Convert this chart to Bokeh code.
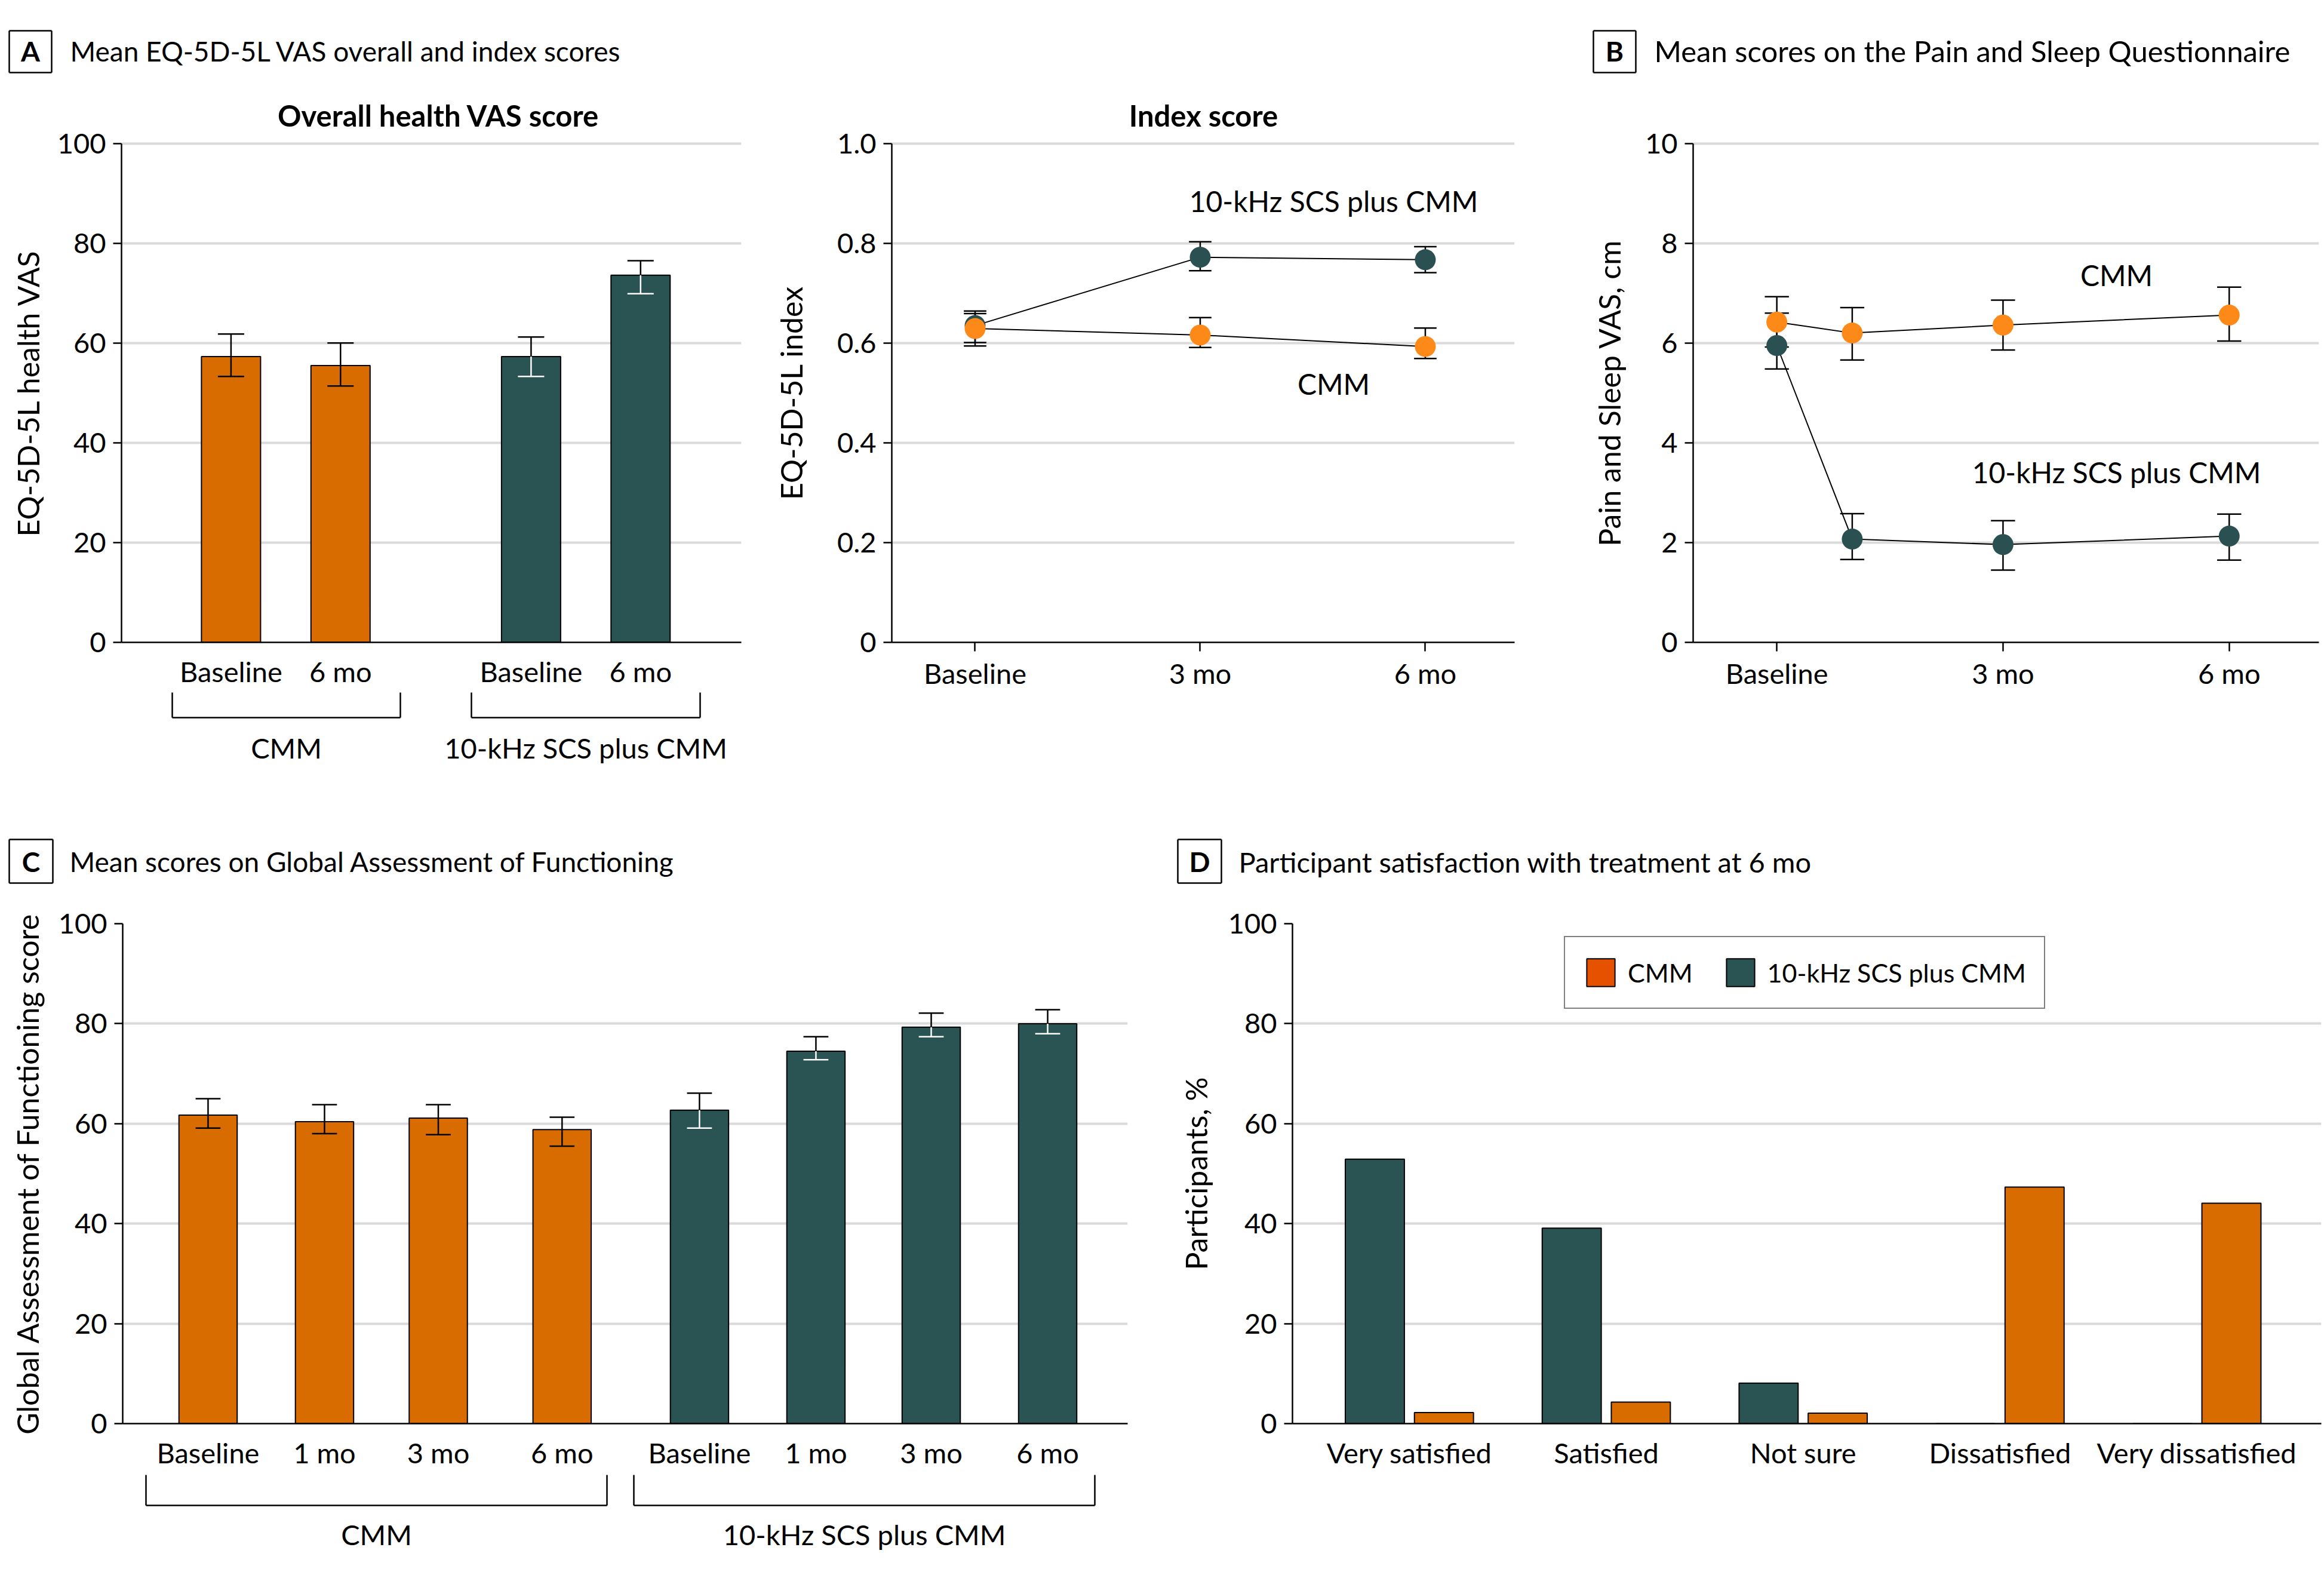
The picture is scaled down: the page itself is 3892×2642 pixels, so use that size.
from bokeh.plotting import figure
from bokeh.models import (Range1d, FixedTicker, Label, Arrow, Legend, LegendItem,
                          CustomJSTickFormatter)
from bokeh.layouts import row, column
from bokeh.embed import file_html
from bokeh.resources import INLINE

# ---------------- data ----------------
# Panel A, left: overall health VAS score (mean, 95% CI)
vas_labels = ["Baseline", "6 mo", "Baseline", "6 mo"]
vas_groups = ["CMM", "CMM", "10-kHz SCS plus CMM", "10-kHz SCS plus CMM"]
vas_mean = [57.3, 55.5, 57.3, 73.6]
vas_low = [53.3, 51.4, 53.3, 69.9]
vas_high = [61.8, 60.0, 61.2, 76.5]

# Panel A, right: index score
idx_months = [0, 3, 6]
idx_tick_labels = ["Baseline", "3 mo", "6 mo"]
idx_scs = [0.635, 0.772, 0.767]
idx_scs_low = [0.601, 0.745, 0.741]
idx_scs_high = [0.664, 0.803, 0.793]
idx_cmm = [0.629, 0.616, 0.593]
idx_cmm_low = [0.594, 0.591, 0.569]
idx_cmm_high = [0.659, 0.651, 0.630]

# Panel B: Pain and Sleep Questionnaire
psq_months = [0, 1, 3, 6]
psq_tick_months = [0, 3, 6]
psq_tick_labels = ["Baseline", "3 mo", "6 mo"]
psq_cmm = [6.42, 6.20, 6.36, 6.56]
psq_cmm_low = [5.92, 5.66, 5.86, 6.04]
psq_cmm_high = [6.93, 6.71, 6.86, 7.12]
psq_scs = [5.95, 2.07, 1.96, 2.13]
psq_scs_low = [5.48, 1.66, 1.45, 1.65]
psq_scs_high = [6.60, 2.58, 2.44, 2.57]

# Panel C: Global Assessment of Functioning
gaf_labels = ["Baseline", "1 mo", "3 mo", "6 mo"]
gaf_cmm = [61.7, 60.4, 61.1, 58.8]
gaf_cmm_low = [59.1, 58.0, 57.8, 55.5]
gaf_cmm_high = [65.0, 63.8, 63.8, 61.3]
gaf_scs = [62.7, 74.5, 79.3, 80.0]
gaf_scs_low = [59.1, 72.8, 77.4, 78.0]
gaf_scs_high = [66.1, 77.4, 82.1, 82.8]

# Panel D: satisfaction at 6 mo (% of participants)
sat_categories = ["Very satisfied", "Satisfied", "Not sure", "Dissatisfied", "Very dissatisfied"]
sat_cmm = [2.2, 4.3, 2.1, 47.3, 44.1]
sat_scs = [52.9, 39.1, 8.1, 0, 0]

# ---------------- style ----------------
FONT = "Lato"
FS = "47px"
FS_AX = "50px"
ORANGE = "#D96C00"
ORANGE_LEG = "#E65100"
TEAL = "#2A5354"
ORANGE_PT = "#FD8A18"
TEAL_PT = "#2B5051"
GRID = "#DADADA"
PAGE_W = 3892
FIX = 18  # baseline correction for labels (px)
# row-1 frames extend above the top tick (to hold the panel titles); trailing
# no-break spaces re-centre the y-axis titles on the 0..max tick span
PAD = "\u00a0" * 7

# layout positions (not data)
vas_pos = [0, 1, 2.74, 3.74]
gaf_pos_cmm = [0, 1.0, 1.977, 3.04]
gaf_pos_scs = [4.22, 5.22, 6.21, 7.21]
sat_offset = 0.1755

# vertical layout bands (page px)
S1_TOP, S1_H = 0, 150
R1_TOP, R1_H = 150, 1007
S2_TOP, S2_H = 1157, 343
R2_TOP, R2_H = 1500, 964
S3_TOP, S3_H = 2464, 178

R1_TICK_TOP = 240   # page y of the top tick (100 / 1.0 / 10) in row 1
R1_BOTTOM = 1078    # page y of the x axis in row 1


def make(x0, y0, W, H, frame, xr, yr):
    L, R, T, B = frame  # page px
    p = figure(width=W, height=H, x_range=Range1d(*xr), y_range=Range1d(*yr),
               output_backend="svg", toolbar_location=None,
               min_border_left=L - x0, min_border_right=x0 + W - R,
               min_border_top=T - y0, min_border_bottom=y0 + H - B)
    p.outline_line_color = None
    p.background_fill_color = "white"
    p.border_fill_color = "white"

    def conv(gx, gy):
        dx = xr[0] + (gx - L) / (R - L) * (xr[1] - xr[0])
        dy = yr[0] + (B - gy) / (B - T) * (yr[1] - yr[0])
        return dx, dy
    return p, conv


def top_ext(ymax):
    # extend the range above the last tick so the panel title fits inside the frame
    return ymax * (R1_BOTTOM - R1_TOP) / (R1_BOTTOM - R1_TICK_TOP)


def make_strip(top, H):
    p = figure(width=PAGE_W, height=H, x_range=Range1d(0, PAGE_W), y_range=Range1d(H, 0),
               output_backend="svg", toolbar_location=None, x_axis_type=None, y_axis_type=None,
               min_border_left=0, min_border_right=0, min_border_top=0, min_border_bottom=0)
    p.outline_line_color = None
    p.background_fill_color = "white"
    p.border_fill_color = "white"

    def conv(rx, ry):
        return rx, ry - top
    return p, conv


def style(p, yticks, ylabel, ystandoff, xtick_out=0, xstandoff=20):
    p.xgrid.grid_line_color = None
    p.ygrid.grid_line_color = GRID
    p.ygrid.grid_line_width = 4
    p.yaxis.ticker = FixedTicker(ticks=yticks)
    p.yaxis.bounds = (yticks[0], yticks[-1])
    for ax in (p.xaxis[0], p.yaxis[0]):
        ax.axis_line_color = "black"
        ax.axis_line_width = 2.5
        ax.major_tick_line_color = "black"
        ax.major_tick_line_width = 2.5
        ax.major_tick_in = 0
        ax.minor_tick_line_color = None
        ax.major_label_text_font = FONT
        ax.major_label_text_font_size = FS
        ax.major_label_text_color = "black"
        ax.axis_label_text_font = FONT
        ax.axis_label_text_font_size = FS_AX
        ax.axis_label_text_font_style = "normal"
        ax.axis_label_text_color = "black"
    p.yaxis.major_tick_out = 14
    p.yaxis.major_label_standoff = 12
    p.yaxis.axis_label = ylabel
    p.yaxis.axis_label_standoff = ystandoff
    p.xaxis.major_tick_out = xtick_out
    if xtick_out == 0:
        p.xaxis.major_tick_line_color = None
    p.xaxis.major_label_standoff = xstandoff


def seg(p, a, b, color="black", width=2.5):
    p.add_layout(Arrow(start=None, end=None, x_start=a[0], y_start=a[1],
                       x_end=b[0], y_end=b[1], line_color=color, line_width=width))


def text(p, conv, x, base, s, align="left", bold=False, size=FS):
    xy = conv(x, base - FIX)
    p.add_layout(Label(x=xy[0], y=xy[1], text=s, text_font=FONT, text_font_size=size,
                       text_font_style="bold" if bold else "normal", text_color="black",
                       text_align=align, text_baseline="alphabetic"))


def header(p, conv, box, letter, title, title_x, baseline, size=FS):
    x0, x1, y0, y1 = box
    seg(p, conv(x0, y0), conv(x1, y0))
    seg(p, conv(x1, y0), conv(x1, y1))
    seg(p, conv(x1, y1), conv(x0, y1))
    seg(p, conv(x0, y1), conv(x0, y0))
    text(p, conv, (x0 + x1) / 2, baseline, letter, align="center", bold=True, size="46px")
    text(p, conv, title_x, baseline, title, size=size)


def bracket(p, conv, xa, xb, ytop, ybot, label, label_base):
    seg(p, conv(xa, ytop), conv(xa, ybot))
    seg(p, conv(xa, ybot), conv(xb, ybot))
    seg(p, conv(xb, ybot), conv(xb, ytop))
    text(p, conv, (xa + xb) / 2, label_base, label, align="center")


def bar_err(p, xs, mean, lo, hi, low_colors, cap):
    p.segment(x0=xs, y0=mean, x1=xs, y1=hi, line_color="black", line_width=2.5)
    p.segment(x0=[x - cap for x in xs], y0=hi, x1=[x + cap for x in xs], y1=hi,
              line_color="black", line_width=2.5)
    p.segment(x0=xs, y0=lo, x1=xs, y1=mean, line_color=low_colors, line_width=2.5)
    p.segment(x0=[x - cap for x in xs], y0=lo, x1=[x + cap for x in xs], y1=lo,
              line_color=low_colors, line_width=2.5)


def line_err(p, xs, mean, lo, hi, cap):
    p.segment(x0=xs, y0=lo, x1=xs, y1=hi, line_color="black", line_width=2.5)
    p.segment(x0=[x - cap for x in xs], y0=hi, x1=[x + cap for x in xs], y1=hi,
              line_color="black", line_width=2.5)
    p.segment(x0=[x - cap for x in xs], y0=lo, x1=[x + cap for x in xs], y1=lo,
              line_color="black", line_width=2.5)
    p.line(xs, mean, line_color="black", line_width=2)


# ---------------- strip 1: headers of A and B ----------------
s1, c1 = make_strip(S1_TOP, S1_H)
header(s1, c1, (15, 86, 51, 121), "A", "Mean EQ-5D-5L VAS overall and index scores", 117, 102.5,
       size="46px")
header(s1, c1, (2668, 2739, 51, 121), "B", "Mean scores on the Pain and Sleep Questionnaire",
       2770, 102.5, size="49px")

# ---------------- A1: Overall health VAS ----------------
pA1, cA1 = make(0, R1_TOP, 1270, R1_H, (203, 1241, R1_TOP, R1_BOTTOM), (-1.0, 4.66),
                (0, top_ext(100)))
style(pA1, [0, 20, 40, 60, 80, 100], "EQ-5D-5L health VAS" + PAD, 16)
pA1.xaxis.ticker = FixedTicker(ticks=vas_pos)
pA1.xaxis.major_label_overrides = {pos: lab for pos, lab in zip(vas_pos, vas_labels)}
vas_colors = [ORANGE if g == "CMM" else TEAL for g in vas_groups]
vas_lowc = ["black" if g == "CMM" else "white" for g in vas_groups]
pA1.vbar(x=vas_pos, top=vas_mean, bottom=0, width=0.54, fill_color=vas_colors,
         line_color="black", line_width=2)
bar_err(pA1, vas_pos, vas_mean, vas_low, vas_high, vas_lowc, 0.12)
text(pA1, cA1, 734, 211, "Overall health VAS score", align="center", bold=True, size="49px")

# ---------------- A2: Index score ----------------
pA2, cA2 = make(1270, R1_TOP, 1350, R1_H, (1493, 2536, R1_TOP, R1_BOTTOM), (-1.11, 7.19),
                (0, top_ext(1.0)))
style(pA2, [0, 0.2, 0.4, 0.6, 0.8, 1.0], "EQ-5D-5L index" + PAD, 44, xtick_out=15, xstandoff=8)
pA2.yaxis.formatter = CustomJSTickFormatter(code="return tick == 0 ? '0' : tick.toFixed(1);")
pA2.xaxis.ticker = FixedTicker(ticks=idx_months)
pA2.xaxis.major_label_overrides = {m: lab for m, lab in zip(idx_months, idx_tick_labels)}
line_err(pA2, idx_months, idx_scs, idx_scs_low, idx_scs_high, 0.15)
line_err(pA2, idx_months, idx_cmm, idx_cmm_low, idx_cmm_high, 0.15)
pA2.scatter(idx_months, idx_scs, size=35, fill_color=TEAL_PT, line_color=None)
pA2.scatter(idx_months, idx_cmm, size=35, fill_color=ORANGE_PT, line_color=None)
text(pA2, cA2, 2015, 211, "Index score", align="center", bold=True, size="49px")
text(pA2, cA2, 2233, 355, "10-kHz SCS plus CMM", align="center", size="48px")
text(pA2, cA2, 2233, 662, "CMM", align="center", size="48px")

# ---------------- B: Pain and Sleep ----------------
pB, cB = make(2620, R1_TOP, 1272, R1_H, (2835, 3883, R1_TOP, R1_BOTTOM), (-1.11, 7.19),
              (0, top_ext(10)))
style(pB, [0, 2, 4, 6, 8, 10], "Pain and Sleep VAS, cm" + PAD, 27, xtick_out=15, xstandoff=8)
pB.xaxis.ticker = FixedTicker(ticks=psq_tick_months)
pB.xaxis.major_label_overrides = {m: lab for m, lab in zip(psq_tick_months, psq_tick_labels)}
line_err(pB, psq_months, psq_scs, psq_scs_low, psq_scs_high, 0.16)
line_err(pB, psq_months, psq_cmm, psq_cmm_low, psq_cmm_high, 0.16)
pB.scatter(psq_months, psq_scs, size=35, fill_color=TEAL_PT, line_color=None)
pB.scatter(psq_months, psq_cmm, size=35, fill_color=ORANGE_PT, line_color=None)
text(pB, cB, 3544, 479, "CMM", align="center", size="48px")
text(pB, cB, 3544, 810, "10-kHz SCS plus CMM", align="center", size="48px")

# ---------------- strip 2: A1 brackets, headers of C and D ----------------
s2, c2 = make_strip(S2_TOP, S2_H)
bracket(s2, c2, 288, 670, 1159, 1201, "CMM", 1269)
bracket(s2, c2, 789, 1172, 1159, 1201, "10-kHz SCS plus CMM", 1269)
header(s2, c2, (15, 88, 1405, 1478), "C", "Mean scores on Global Assessment of Functioning", 116, 1460,
       size="46px")
header(s2, c2, (1972, 2045, 1405, 1478), "D", "Participant satisfaction with treatment at 6 mo", 2074, 1460)

# ---------------- C: GAF ----------------
pC, cC = make(0, R2_TOP, 1940, R2_H, (205, 1888, 1546, 2383), (-0.733, 7.897), (0, 100))
style(pC, [0, 20, 40, 60, 80, 100], "Global Assessment of Functioning score", 19)
gaf_pos = gaf_pos_cmm + gaf_pos_scs
pC.xaxis.ticker = FixedTicker(ticks=gaf_pos)
pC.xaxis.major_label_overrides = {pos: lab for pos, lab in zip(gaf_pos, gaf_labels + gaf_labels)}
pC.vbar(x=gaf_pos_cmm, top=gaf_cmm, bottom=0, width=0.5, fill_color=ORANGE,
        line_color="black", line_width=2)
pC.vbar(x=gaf_pos_scs, top=gaf_scs, bottom=0, width=0.5, fill_color=TEAL,
        line_color="black", line_width=2)
bar_err(pC, gaf_pos_cmm, gaf_cmm, gaf_cmm_low, gaf_cmm_high, "black", 0.107)
bar_err(pC, gaf_pos_scs, gaf_scs, gaf_scs_low, gaf_scs_high, "white", 0.107)

# ---------------- D: satisfaction ----------------
pD, cD = make(1940, R2_TOP, 1952, R2_H, (2164, 3887, 1546, 2383), (-0.594, 4.632), (0, 100))
style(pD, [0, 20, 40, 60, 80, 100], "Participants, %", 21)
cat_pos = list(range(len(sat_categories)))
pD.xaxis.ticker = FixedTicker(ticks=cat_pos)
pD.xaxis.major_label_overrides = {i: c for i, c in zip(cat_pos, sat_categories)}
r_scs = pD.vbar(x=[i - sat_offset for i in cat_pos], top=sat_scs, bottom=0, width=0.30,
                fill_color=TEAL, line_color="black", line_width=2)
r_cmm = pD.vbar(x=[i + sat_offset for i in cat_pos], top=sat_cmm, bottom=0, width=0.30,
                fill_color=ORANGE, line_color="black", line_width=2)
# legend swatch for CMM uses a slightly redder orange in the original
r_cmm_key = pD.vbar(x=[i + sat_offset for i in cat_pos], top=sat_cmm, bottom=0, width=0.30,
                    fill_color=ORANGE_LEG, line_color="black", line_width=2, visible=False)
legend = Legend(items=[LegendItem(label="CMM", renderers=[r_cmm_key]),
                       LegendItem(label="10-kHz SCS plus CMM", renderers=[r_scs])],
                orientation="horizontal", location=(455, 694), margin=0,
                border_line_color="black", border_line_width=2.5,
                padding=30, spacing=50, glyph_width=59, glyph_height=58, label_standoff=16,
                label_text_font=FONT, label_text_font_size="43px", label_text_color="black",
                background_fill_color="white", background_fill_alpha=1,
                inactive_fill_alpha=0)
pD.add_layout(legend)

# ---------------- strip 3: C brackets ----------------
s3, c3 = make_strip(S3_TOP, S3_H)
bracket(s3, c3, 244, 1016, 2469, 2520, "CMM", 2586)
bracket(s3, c3, 1061, 1833, 2469, 2520, "10-kHz SCS plus CMM", 2586)

layout = column(s1, row(pA1, pA2, pB, spacing=0), s2, row(pC, pD, spacing=0), s3, spacing=0)
open("out.html", "w").write(file_html(layout, INLINE))
